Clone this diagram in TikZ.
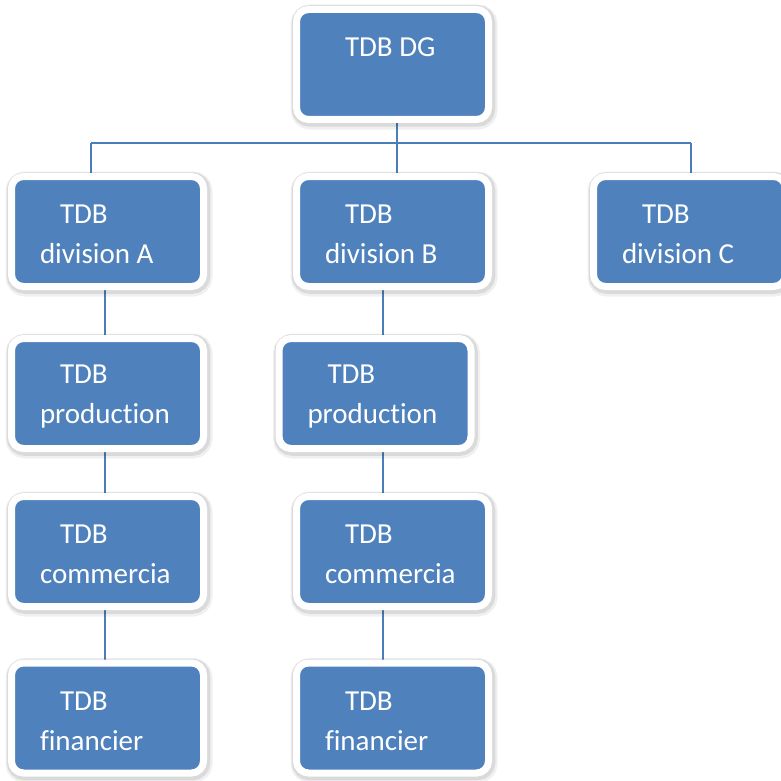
\documentclass[tikz,border=0pt]{standalone}
\usepackage{fontspec}
\setmainfont[Ligatures={NoCommon}]{Carlito}
\usetikzlibrary{backgrounds}
\definecolor{boxblue}{HTML}{4F81BD}
\definecolor{linkblue}{HTML}{4A7EBB}
% first-line indent plus a raised strut
\newcommand{\firstline}{\rule{0pt}{24.7pt}\hspace*{20pt}}

\begin{document}
\begin{tikzpicture}[x=1pt,y=-1pt,
  orgbox/.style={rectangle, rounded corners=12pt, fill=boxblue, draw=white, line width=7pt,
    minimum width=192pt, minimum height=110pt, text width=135pt,
    inner xsep=28.5pt, inner ysep=0pt, align=flush left, text=white,
    font=\fontsize{29}{40}\selectfont,
    preaction={draw=black, draw opacity=0.06, line width=15pt,
      transform canvas={shift={(1.5pt,-2.5pt)}}},
    preaction={draw=black, draw opacity=0.09, line width=11.5pt,
      transform canvas={shift={(1pt,-1.5pt)}}}},
  link/.style={draw=linkblue, line width=1.6pt}]

\useasboundingbox (0,0) rectangle (781,781);

% boxes
\node[orgbox] (dg)    at (392.5,64.5)  {\firstline TDB DG\\\mbox{}};
\node[orgbox] (divA)  at (107.5,231.5) {\firstline TDB\\division A};
\node[orgbox] (divB)  at (392.5,231.5) {\firstline TDB\\division B};
\node[orgbox] (divC)  at (689.5,231.5) {\firstline TDB\\division C};
\node[orgbox] (prodA) at (107.5,393.5) {\firstline TDB\\production};
\node[orgbox] (prodB) at (375,393.5)   {\firstline TDB\\production};
\node[orgbox] (comA)  at (107.5,551.5) {\firstline TDB\\commercia};
\node[orgbox] (comB)  at (392.5,551.5) {\firstline TDB\\commercia};
\node[orgbox] (finA)  at (107.5,718)   {\firstline TDB\\financier};
\node[orgbox] (finB)  at (392.5,718)   {\firstline TDB\\financier};

% connector guides
\coordinate (busL) at (91,143);
\coordinate (busM) at (397,143);
\coordinate (busR) at (691,143);
\coordinate (colA) at (105,0);
\coordinate (colB) at (383,0);

\begin{scope}[on background layer]
  \fill[white] (0,0) rectangle (781,781);
  \draw[link] (busL) -- (busR);
  \draw[link] (dg.south -| busM) -- (busM) -- (divB.north -| busM);
  \draw[link] (busL) -- (busL |- divA.north);
  \draw[link] (busR) -- (busR |- divC.north);
  \draw[link] (divA.south -| colA) -- (prodA.north -| colA);
  \draw[link] (prodA.south -| colA) -- (comA.north -| colA);
  \draw[link] (comA.south -| colA) -- (finA.north -| colA);
  \draw[link] (divB.south -| colB) -- (prodB.north -| colB);
  \draw[link] (prodB.south -| colB) -- (comB.north -| colB);
  \draw[link] (comB.south -| colB) -- (finB.north -| colB);
\end{scope}
\end{tikzpicture}
\end{document}
